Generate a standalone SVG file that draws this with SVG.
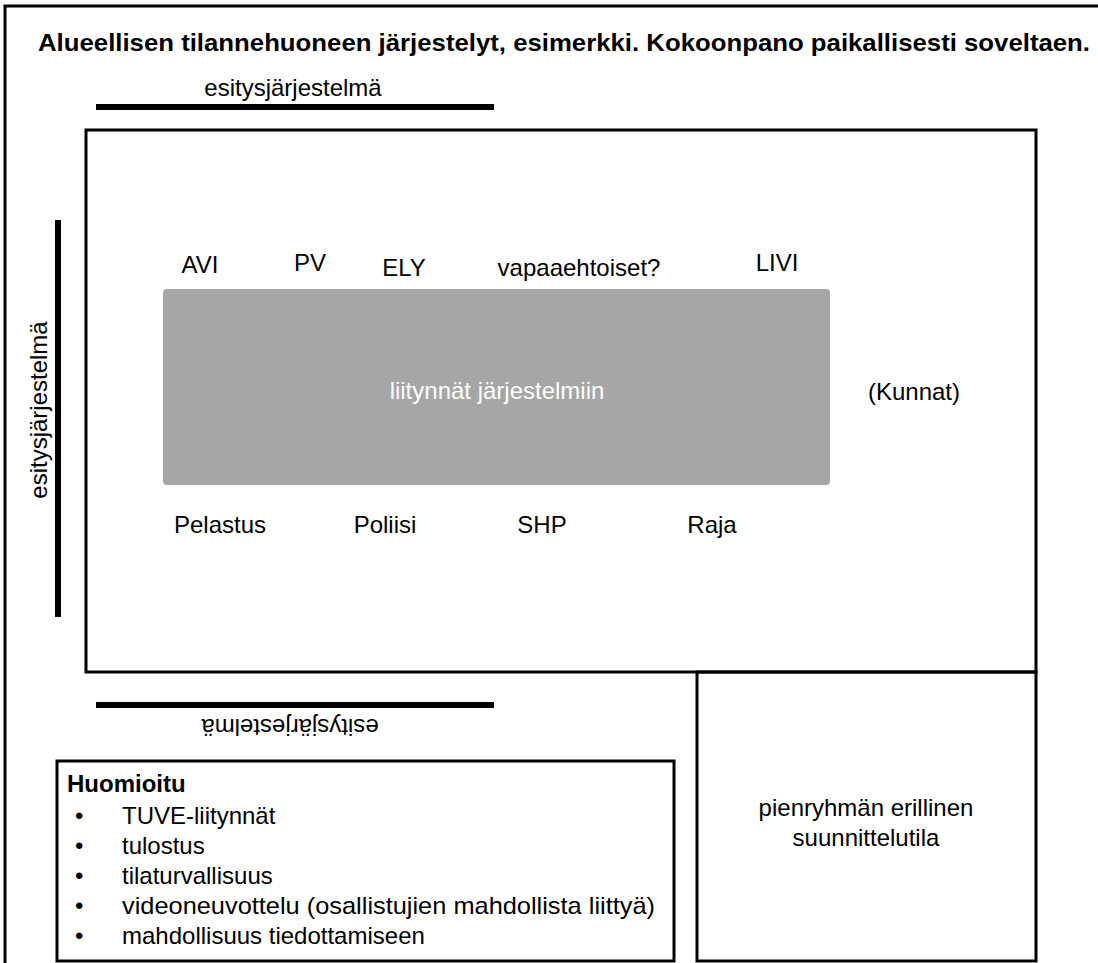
<svg xmlns="http://www.w3.org/2000/svg" width="1098" height="963" viewBox="0 0 1098 963">
  <style>
    .t { font-family: "Liberation Sans", Arial, sans-serif; font-size: 24px; fill: #000; }
    .b { font-weight: bold; }
    .w { fill: #fff; }
    .frame { fill: none; stroke: #000; stroke-width: 3; }
    .bar { stroke: #000; stroke-width: 6; }
  </style>
  <rect width="1098" height="963" fill="#fff"/>

  <!-- outer slide frame (left and top edges visible) -->
  <path d="M5,963 V6 H1098" class="frame"/>

  <text class="t b" x="564" y="51" text-anchor="middle" textLength="1052" lengthAdjust="spacingAndGlyphs">Alueellisen tilannehuoneen järjestelyt, esimerkki. Kokoonpano paikallisesti soveltaen.</text>

  <!-- display screens -->
  <g id="screen-top">
    <text class="t" x="293" y="96" text-anchor="middle">esitysjärjestelmä</text>
    <line x1="96" y1="107" x2="494" y2="107" class="bar"/>
  </g>
  <g id="screen-left">
    <line x1="58" y1="220" x2="58" y2="617" class="bar"/>
    <text class="t" transform="translate(47,410) rotate(-90)" text-anchor="middle">esitysjärjestelmä</text>
  </g>
  <g id="screen-bottom">
    <line x1="96" y1="705" x2="494" y2="705" class="bar"/>
    <text class="t" transform="translate(290,719) rotate(180)" text-anchor="middle">esitysjärjestelmä</text>
  </g>

  <!-- main situation room -->
  <g id="main-room">
    <rect x="86" y="130" width="950" height="542" class="frame"/>
  </g>

  <g id="systems">
    <rect x="163" y="289" width="667" height="196" rx="4" fill="#a6a6a6"/>
    <text class="t w" x="497" y="399" text-anchor="middle">liitynnät järjestelmiin</text>
  </g>

  <g id="org-top">
    <text class="t" x="200" y="273" text-anchor="middle">AVI</text>
    <text class="t" x="310" y="271" text-anchor="middle">PV</text>
    <text class="t" x="404" y="276" text-anchor="middle">ELY</text>
    <text class="t" x="579" y="276" text-anchor="middle">vapaaehtoiset?</text>
    <text class="t" x="777" y="271" text-anchor="middle">LIVI</text>
  </g>
  <g id="org-right">
    <text class="t" x="914" y="400" text-anchor="middle">(Kunnat)</text>
  </g>
  <g id="org-bottom">
    <text class="t" x="220" y="533" text-anchor="middle">Pelastus</text>
    <text class="t" x="385" y="533" text-anchor="middle">Poliisi</text>
    <text class="t" x="542" y="533" text-anchor="middle">SHP</text>
    <text class="t" x="712" y="533" text-anchor="middle">Raja</text>
  </g>

  <!-- notes -->
  <g id="notes">
    <rect x="57" y="761" width="617" height="200" class="frame"/>
    <text class="t b" x="67" y="792">Huomioitu</text>
    <text class="t" x="75" y="824">•</text><text class="t" x="122" y="824">TUVE-liitynnät</text>
    <text class="t" x="75" y="854">•</text><text class="t" x="122" y="854">tulostus</text>
    <text class="t" x="75" y="884">•</text><text class="t" x="122" y="884">tilaturvallisuus</text>
    <text class="t" x="75" y="914">•</text><text class="t" x="122" y="914" textLength="533" lengthAdjust="spacingAndGlyphs">videoneuvottelu (osallistujien mahdollista liittyä)</text>
    <text class="t" x="75" y="944">•</text><text class="t" x="122" y="944">mahdollisuus tiedottamiseen</text>
  </g>

  <!-- small group planning room -->
  <g id="planning-room">
    <rect x="697" y="672" width="339" height="289" class="frame"/>
    <text class="t" x="866" y="816" text-anchor="middle">pienryhmän erillinen</text>
    <text class="t" x="866" y="846" text-anchor="middle">suunnittelutila</text>
  </g>
</svg>
